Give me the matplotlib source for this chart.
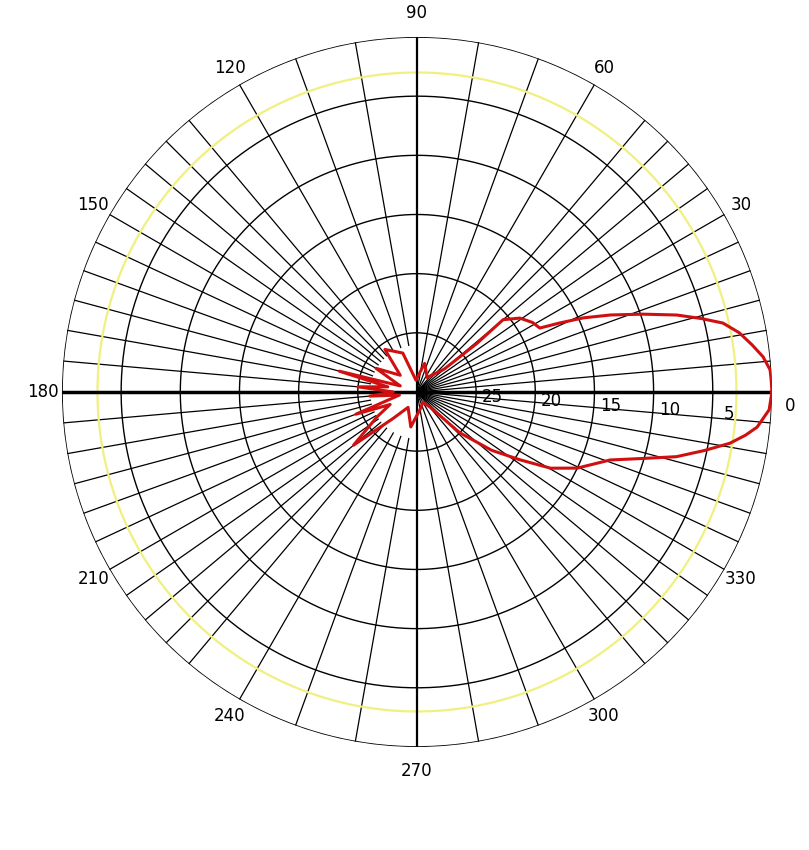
import matplotlib
matplotlib.use('Agg')
import matplotlib.pyplot as plt
import numpy as np

# --- data (angle in degrees, gain in dB) ---
angles = [0, 2, 3.6, 5.8, 8, 10.4, 12.7, 14.5, 16.5, 19, 21.7, 24, 25.8, 27.5, 31, 35.7, 40, 39, 40,
          55, 75, 95, 110, 127, 135, 150, 160, 165, 170, 175, 180, 185, 190,
          200, 205, 212, 220, 228, 240, 260, 280, 300, 311,
          316.4, 322, 326.6, 330.3, 334.6, 338, 340.6, 343.5, 346, 348.5, 350.7, 352.5, 354.1, 357.1, 360]
gains = [0, -0.05, -0.1, -0.6, -1.4, -2.3, -3.5, -5.2, -7.1, -9.8, -12.4, -14.6, -16.6, -18.3, -18.6, -19.3, -20.5, -23.5, -27,
         -28.5, -27.5, -29, -26.5, -25.5, -28, -26, -28.5, -23.2, -27.5, -25, -28, -26, -28.5,
         -24.5, -27.5, -26, -23, -27, -28.5, -27, -28.5, -29, -28.3,
         -25, -22, -19.6, -17, -15, -13.8, -12.7, -10.2, -7.4, -5.2, -3.2, -2.0, -1.1, -0.2, 0]
ring_values = [5, 10, 15, 20, 25]
angle_labels = [0, 30, 60, 90, 120, 150, 180, 210, 240, 270, 300, 330]

RMIN, RMAX = -30, 0

fig = plt.figure(figsize=(8.09, 8.5), dpi=100)
ax = fig.add_axes([0.0766, 0.1212, 0.8776, 0.8353], projection='polar')
ax.set_ylim(RMIN, RMAX)
ax.set_axis_off()

full = np.linspace(0, 2 * np.pi, 400)

# spokes: 5 deg near the horizontal, 10 deg elsewhere
spokes = []
for a in range(0, 360, 5):
    d = min(abs(a - 0), abs(a - 180), abs(a - 360))
    if d <= 45 or a % 10 == 0:
        spokes.append(a)
for a in spokes:
    if a in (0, 90, 180, 270):
        continue
    start = RMIN if (a < 90 or a > 270) else -26
    ax.plot([np.radians(a)] * 2, [start, RMAX], color='black', lw=0.9, zorder=1)

# rings
for v in ring_values:
    ax.plot(full, [-v] * len(full), color='black', lw=1.0, zorder=1)
ax.plot(full, [-3] * len(full), color='#f0f080', lw=1.6, zorder=1)
ax.plot(full, [RMAX] * len(full), color='black', lw=1.2, zorder=2)

# main axes
ax.plot([np.pi, np.pi], [RMIN, RMAX], color='black', lw=2.5, zorder=2)
ax.plot([0, 0], [RMIN, RMAX], color='black', lw=2.5, zorder=2)
ax.plot([np.pi / 2] * 2, [RMIN, RMAX], color='black', lw=1.6, zorder=2)
ax.plot([3 * np.pi / 2] * 2, [RMIN, RMAX], color='black', lw=1.6, zorder=2)

# pattern
ax.plot(np.radians(angles), gains, color='#d01010', lw=2.2, zorder=3)

# labels
for v in ring_values:
    ax.text(np.radians(-4), -v + 1.4, str(v), fontsize=12, ha='center', va='center',
            color='black', zorder=4)
for a in angle_labels:
    r = 2.0 if a in (90, 270) else 1.6
    th = np.radians(-2.2) if a == 0 else np.radians(a)
    ax.text(th, RMAX + r, str(a), fontsize=12, ha='center', va='center',
            color='black', clip_on=False)

plt.savefig('out.png', dpi=100, facecolor='white')
plt.close()
